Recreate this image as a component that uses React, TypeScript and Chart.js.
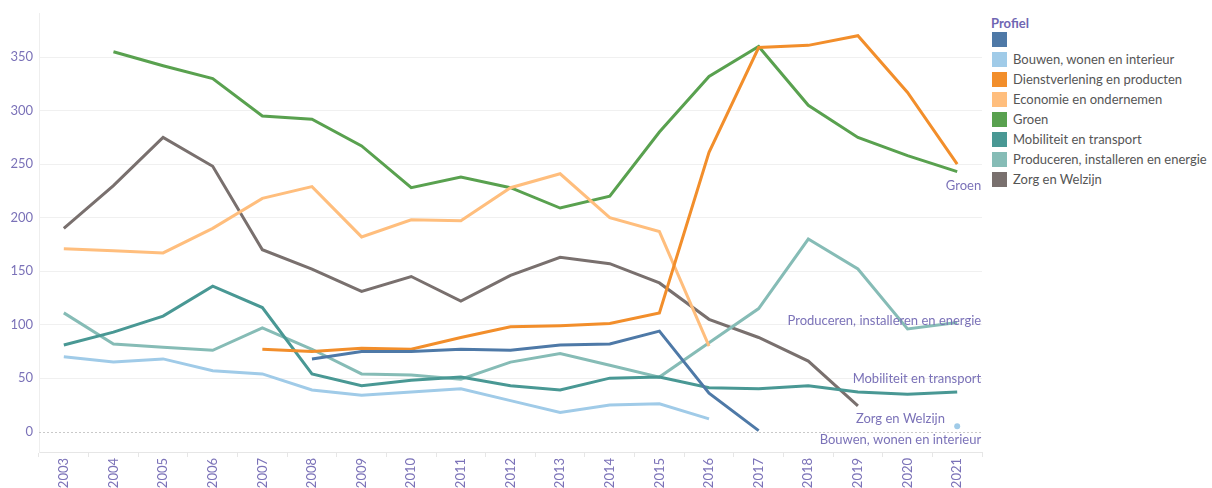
import React, { useEffect, useRef } from "react";
import { Chart, registerables } from "chart.js";
Chart.register(...registerables);

const years = ["2003", "2004", "2005", "2006", "2007", "2008", "2009", "2010", "2011", "2012", "2013", "2014", "2015", "2016", "2017", "2018", "2019", "2020", "2021"];
const yTicks = [0, 50, 100, 150, 200, 250, 300, 350];

const seriesNames = [
  "",
  "Bouwen, wonen en interieur",
  "Dienstverlening en producten",
  "Economie en ondernemen",
  "Groen",
  "Mobiliteit en transport",
  "Produceren, installeren en energie",
  "Zorg en Welzijn",
];
const seriesColors = ["#4e79a7", "#a0cbe8", "#f28e2b", "#ffbe7d", "#59a14f", "#499894", "#86bcb6", "#79706e"];

const unnamedVals = [null, null, null, null, null, 68, 75, 75, 77, 76, 81, 82, 94, 36, 1, null, null, null, null];
const bouwenVals = [70, 65, 68, 57, 54, 39, 34, 37, 40, 29, 18, 25, 26, 12, null, null, null, null, 5];
const dienstVals = [null, null, null, null, 77, 75, 78, 77, 88, 98, 99, 101, 111, 261, 359, 361, 370, 317, 250];
const economieVals = [171, 169, 167, 190, 218, 229, 182, 198, 197, 228, 241, 200, 187, 80, null, null, null, null, null];
const groenVals = [null, 355, 342, 330, 295, 292, 267, 228, 238, 228, 209, 220, 280, 332, 360, 305, 275, 258, 243];
const mobiliteitVals = [81, 93, 108, 136, 116, 54, 43, 48, 51, 43, 39, 50, 51, 41, 40, 43, 37, 35, 37];
const producerenVals = [111, 82, 79, 76, 97, 77, 54, 53, 49, 65, 73, 62, 51, 83, 115, 180, 152, 96, 102];
const zorgVals = [190, 230, 275, 248, 170, 152, 131, 145, 122, 146, 163, 157, 139, 105, 88, 66, 24, null, null];

const seriesValues = [unnamedVals, bouwenVals, dienstVals, economieVals, groenVals, mobiliteitVals, producerenVals, zorgVals];

// end-of-line labels: series index, label offsets (style only)
const endLabels = [
  { series: 4, dx: 24, dy: 14 },
  { series: 6, dx: 24, dy: -2 },
  { series: 5, dx: 24, dy: -13 },
  { series: 7, dx: 87, dy: 13 },
  { series: 1, dx: 24, dy: 13 },
];

const FONT = "Lato, 'Noto Sans', sans-serif";
const AXIS_COLOR = "#7b72b8";

const zeroLinePlugin = {
  id: "zeroLine",
  beforeDatasetsDraw(chart: any) {
    const { ctx, chartArea, scales } = chart;
    const y = Math.round(scales.y.getPixelForValue(0)) + 0.5;
    ctx.save();
    ctx.strokeStyle = "#c9c9c9";
    ctx.lineWidth = 1;
    ctx.setLineDash([2, 2]);
    ctx.beginPath();
    ctx.moveTo(chartArea.left, y);
    ctx.lineTo(chartArea.right, y);
    ctx.stroke();
    ctx.restore();
  },
};

const endLabelPlugin = {
  id: "endLabels",
  afterDatasetsDraw(chart: any) {
    const { ctx, scales } = chart;
    ctx.save();
    ctx.font = `13px ${FONT}`;
    ctx.fillStyle = AXIS_COLOR;
    ctx.textAlign = "right";
    ctx.textBaseline = "middle";
    endLabels.forEach((l) => {
      const vals = seriesValues[l.series];
      let idx = vals.length - 1;
      while (idx >= 0 && vals[idx] == null) idx--;
      const x = scales.x.getPixelForValue(idx);
      const y = scales.y.getPixelForValue(vals[idx] as number);
      ctx.fillText(seriesNames[l.series], x + l.dx, y + l.dy);
    });
    ctx.restore();
  },
};

function ChartCanvas() {
  const ref = useRef<HTMLCanvasElement>(null);
  useEffect(() => {
    if (!ref.current) return;
    const chart = new Chart(ref.current, {
      type: "line",
      data: {
        labels: years,
        datasets: seriesNames.map((name, i) => ({
          label: name,
          data: seriesValues[i],
          borderColor: seriesColors[i],
          backgroundColor: seriesColors[i],
          borderWidth: 3,
          tension: 0,
          spanGaps: false,
          pointRadius: (ctx: any) =>
            i === 1 && ctx.dataIndex === years.length - 1 ? 3 : 0,
          pointBorderWidth: 0,
          pointHoverRadius: 0,
        })),
      },
      options: {
        animation: false,
        responsive: false,
        maintainAspectRatio: false,
        layout: { padding: { top: 10, right: 2, left: 0, bottom: 0 } },
        plugins: { legend: { display: false }, tooltip: { enabled: false } },
        events: [],
        scales: {
          x: {
            type: "category",
            offset: true,
            grid: { offset: true, drawOnChartArea: false, drawTicks: true, tickLength: 5, color: "#e6e6e6" },
            border: { display: true, color: "#e6e6e6" },
            ticks: {
              minRotation: 90,
              maxRotation: 90,
              autoSkip: false,
              color: AXIS_COLOR,
              font: { family: FONT, size: 13 },
              padding: 1,
            },
            afterFit: (s: any) => {
              s.height = 36;
            },
          },
          y: {
            min: -19,
            max: 390.5,
            afterBuildTicks: (s: any) => {
              s.ticks = yTicks.map((v) => ({ value: v }));
            },
            grid: {
              color: (c: any) => (c.tick && c.tick.value === 0 ? "rgba(0,0,0,0)" : "#f0f0f0"),
              drawTicks: false,
            },
            border: { display: true, color: "#eeeeee" },
            ticks: { color: AXIS_COLOR, font: { family: FONT, size: 13 }, padding: 6 },
            afterFit: (s: any) => {
              s.width = 39;
            },
          },
        },
      },
      plugins: [zeroLinePlugin, endLabelPlugin],
    } as any);
    return () => chart.destroy();
  }, []);
  return <canvas ref={ref} width={985} height={488} style={{ width: 985, height: 488, display: "block" }} />;
}

export default function App() {
  return (
    <div style={{ position: "absolute", left: 0, top: 0, width: 1212, height: 488, background: "#fff", fontFamily: FONT }}>
      <div style={{ position: "absolute", left: 0, top: 0 }}>
        <ChartCanvas />
      </div>
      <div style={{ position: "absolute", left: 991, top: 15, fontWeight: "bold", fontSize: 13, color: "#6f66b3", lineHeight: "16px" }}>
        Profiel
      </div>
      <div style={{ position: "absolute", left: 991, top: 29 }}>
        {seriesNames.map((n, i) => (
          <div key={i} style={{ display: "flex", alignItems: "center", height: 20, whiteSpace: "nowrap" }}>
            <div style={{ width: 15, height: 15, background: seriesColors[i], marginLeft: 1, marginRight: 6, flexShrink: 0 }} />
            <span style={{ fontSize: 13, color: "#555555" }}>{n}</span>
          </div>
        ))}
      </div>
    </div>
  );
}
